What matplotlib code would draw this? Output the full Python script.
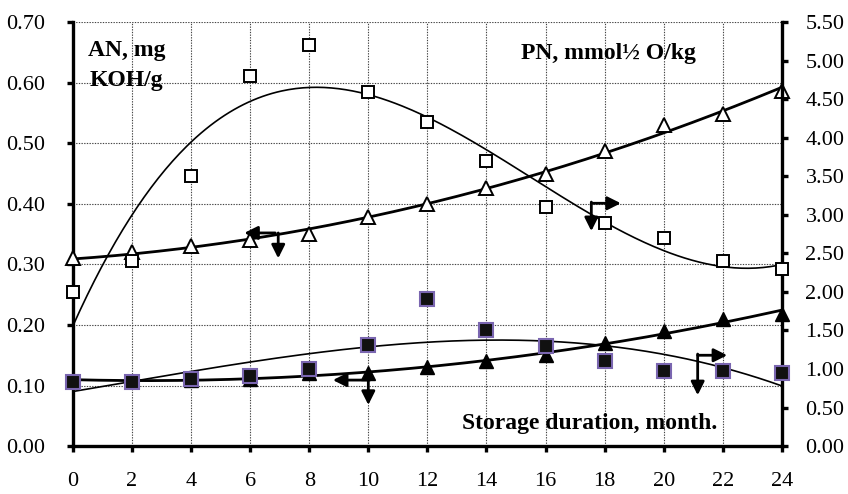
import numpy as np
import matplotlib
matplotlib.use('Agg')
import matplotlib.pyplot as plt

plt.rcParams['font.family'] = ['Liberation Serif', 'DejaVu Serif']

# storage duration, months
months = [0, 2, 4, 6, 8, 10, 12, 14, 16, 18, 20, 22, 24]

# acid number (left axis), mg KOH/g
an_open = [0.31, 0.32, 0.33, 0.34, 0.35, 0.378, 0.40, 0.427, 0.45, 0.488, 0.53, 0.549, 0.587]
an_filled = [0.11, 0.108, 0.109, 0.11, 0.12, 0.12, 0.13, 0.14, 0.15, 0.17, 0.19, 0.21, 0.218]

# peroxide number (right axis), mmol 1/2 O/kg
pn_open = [2.0, 2.4, 3.5, 4.8, 5.2, 4.6, 4.2, 3.7, 3.1, 2.9, 2.7, 2.4, 2.3]
pn_filled = [0.83, 0.83, 0.87, 0.91, 1.0, 1.31, 1.91, 1.5, 1.3, 1.1, 0.98, 0.98, 0.95]

left_ticks = [0.0, 0.1, 0.2, 0.3, 0.4, 0.5, 0.6, 0.7]
right_ticks = [0.0, 0.5, 1.0, 1.5, 2.0, 2.5, 3.0, 3.5, 4.0, 4.5, 5.0, 5.5]

fig = plt.figure(figsize=(8.48, 4.94), dpi=100)
ax = fig.add_axes([0.086, 0.097, 0.836, 0.858])
ax2 = ax.twinx()

xs = np.linspace(0, 24, 300)
x = np.array(months)

# trend lines (polynomial fits, as in the spreadsheet original)
ax.plot(xs, np.polyval(np.polyfit(x, an_open, 2), xs), color='black', lw=2, zorder=2)
ax.plot(xs, np.polyval(np.polyfit(x, an_filled, 2), xs), color='black', lw=2, zorder=2)
ax2.plot(xs, np.polyval(np.polyfit(x, pn_open, 3), xs), color='black', lw=1.2, zorder=2)
ax2.plot(xs, np.polyval(np.polyfit(x, pn_filled, 3), xs), color='black', lw=1.2, zorder=2)

ax.plot(months, an_open, linestyle='none', marker='^', ms=9.5, mfc='white', mec='black', mew=1.4, zorder=3, clip_on=False)
ax.plot(months, an_filled, linestyle='none', marker='^', ms=9.5, mfc='black', mec='black', zorder=3, clip_on=False)
ax2.plot(months, pn_open, linestyle='none', marker='s', ms=9, mfc='white', mec='black', mew=1.4, zorder=3, clip_on=False)
ax2.plot(months, pn_filled, linestyle='none', marker='s', ms=9.5, mfc='#111111', mec='#7a66b0', mew=1.5, zorder=3, clip_on=False)

# axis-pointer arrows
arrow = dict(arrowstyle='-|>', lw=2, color='black', mutation_scale=20, shrinkA=0, shrinkB=0)
ax.annotate('', xy=(5.8, 0.352), xytext=(6.85, 0.352), arrowprops=arrow)
ax.annotate('', xy=(6.95, 0.31), xytext=(6.95, 0.352), arrowprops=arrow)
ax.annotate('', xy=(8.8, 0.109), xytext=(10.05, 0.109), arrowprops=arrow)
ax.annotate('', xy=(10.0, 0.068), xytext=(10.0, 0.112), arrowprops=arrow)
ax.annotate('', xy=(18.55, 0.401), xytext=(17.55, 0.401), arrowprops=arrow)
ax.annotate('', xy=(17.55, 0.355), xytext=(17.55, 0.403), arrowprops=arrow)
ax.annotate('', xy=(22.15, 0.15), xytext=(21.15, 0.15), arrowprops=arrow)
ax.annotate('', xy=(21.15, 0.084), xytext=(21.15, 0.152), arrowprops=arrow)

ax.set_xlim(0, 24)
ax.set_ylim(0, 0.7)
ax2.set_ylim(0, 5.5)
ax.set_xticks(range(0, 25, 2))
ax.set_yticks(left_ticks)
ax.set_yticklabels(['%.2f' % v for v in left_ticks])
ax2.set_yticks(right_ticks)
ax2.set_yticklabels(['%.2f' % v for v in right_ticks])

ax.grid(True, linestyle=(0, (1.2, 1.2)), color='#444444', lw=0.8)
ax.set_axisbelow(True)

for a in (ax, ax2):
    a.spines['top'].set_visible(False)
    for s in ('left', 'right', 'bottom'):
        a.spines[s].set_linewidth(2.4)
ax.spines['right'].set_visible(False)
ax2.spines['left'].set_visible(False)
ax2.spines['bottom'].set_visible(False)

ax.tick_params(axis='y', direction='out', length=4, width=2.4, labelsize=16, pad=16)
ax.tick_params(axis='x', direction='out', length=4, width=2.4, labelsize=16, pad=15)
ax2.tick_params(axis='y', direction='out', length=4, width=2.4, labelsize=16, pad=13)

ax.text(0.5, 0.653, 'AN, mg', fontsize=17, fontweight='bold', va='center')
ax.text(0.58, 0.604, 'KOH/g', fontsize=17, fontweight='bold', va='center')
ax.text(15.17, 0.648, 'PN, mmol½ O/kg', fontsize=17, fontweight='bold', va='center')
ax.text(13.17, 0.038, 'Storage duration, month.', fontsize=17, fontweight='bold', va='center')

fig.savefig('out.png', dpi=100)
